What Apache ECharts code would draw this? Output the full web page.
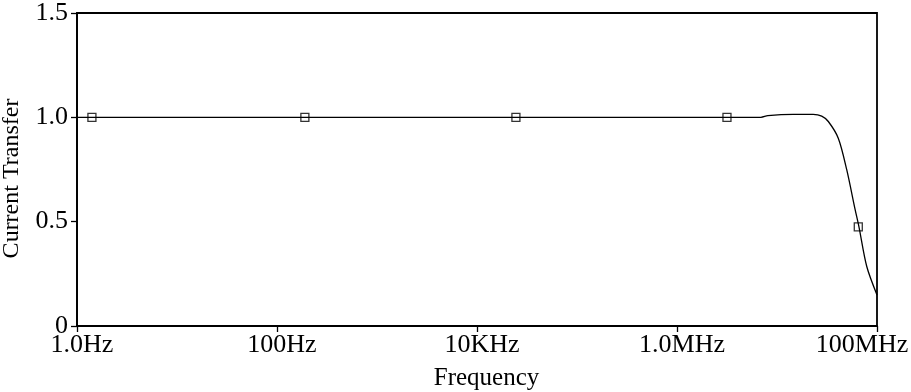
<!DOCTYPE html>
<html>
<head>
<meta charset="utf-8">
<script src="https://cdn.jsdelivr.net/npm/echarts@6/dist/echarts.min.js"></script>
<style>html,body{margin:0;padding:0;background:#fff}#c{width:911px;height:392px}</style>
</head>
<body>
<div id="c"></div>
<script>
// Frequency (Hz) and current transfer values of the curve
const curveFreq = [1, 1e6, 6.9e6, 8.1e6, 1.45e7, 2.3e7, 2.8e7, 3.26e7, 4.1e7, 4.98e7, 6.03e7, 6.6e7, 7.9e7, 1e8];
const curveVal  = [1.0, 1.0, 1.0, 1.008, 1.014, 1.014, 1.006, 0.98, 0.90, 0.749, 0.56, 0.475, 0.285, 0.149];
// Marker positions
const markFreq = [1.41, 190, 24500, 3.16e6, 6.5e7];
const markVal  = [1.0, 1.0, 1.0, 1.0, 0.475];
// Tick labels
const xTickLabels = {1: '1.0Hz', 100: '100Hz', 10000: '10KHz', 1000000: '1.0MHz', 100000000: '100MHz'};
const yTicks = [0, 0.5, 1.0, 1.5];

const font = 'Liberation Serif';
const fs = 26;
const chart = echarts.init(document.getElementById('c'));
chart.setOption({
  animation: false,
  backgroundColor: '#fff',
  grid: {left: 77, top: 13, right: 34, bottom: 66, containLabel: false, outerBoundsMode: 'none',
         show: true, borderColor: '#000', borderWidth: 1.8},
  xAxis: {
    type: 'log', logBase: 10, min: 1, max: 1e8, interval: 2,
    name: 'Frequency', nameLocation: 'middle', nameGap: 40,
    nameTextStyle: {fontFamily: font, fontSize: 25, color: '#000', padding: [0, 0, 0, 19]},
    axisLine: {lineStyle: {color: '#000', width: 1.8}},
    axisTick: {show: true, inside: false, length: 6, lineStyle: {color: '#000', width: 1.3}},
    minorTick: {show: false},
    splitLine: {show: false},
    axisLabel: {
      fontFamily: font, fontSize: fs, color: '#000', margin: 6,
      formatter: function (v) {
        const k = Math.round(v);
        if (xTickLabels[k] === undefined) return '';
        return k === 100000000 ? '{last|' + xTickLabels[k] + '}' : '{n|' + xTickLabels[k] + '}';
      },
      rich: {
        n: {fontFamily: font, fontSize: fs, color: '#000', padding: [0, 0, 0, 10]},
        last: {fontFamily: font, fontSize: fs, color: '#000', padding: [0, 30, 0, 0]}
      }
    }
  },
  yAxis: {
    type: 'value', min: 0, max: 1.5, interval: 0.5,
    name: 'Current Transfer', nameLocation: 'middle', nameGap: 53,
    nameTextStyle: {fontFamily: font, fontSize: 24, color: '#000', padding: [0, 18, 0, 0]},
    axisLine: {show: true, lineStyle: {color: '#000', width: 1.8}},
    axisTick: {show: true, inside: false, length: 6, lineStyle: {color: '#000', width: 1.3}},
    splitLine: {show: false},
    axisLabel: {
      fontFamily: font, fontSize: fs, color: '#000', margin: 9,
      formatter: function (v) { return v === 0 ? '0' : v.toFixed(1); }
    }
  },
  series: [
    {
      type: 'line', smooth: 0.3, showSymbol: false, symbol: 'none',
      data: curveFreq.map((f, i) => [f, curveVal[i]]),
      lineStyle: {color: '#000', width: 1.3}
    },
    {
      type: 'scatter', symbol: 'rect', symbolSize: [8, 8],
      data: markFreq.map((f, i) => [f, markVal[i]]),
      itemStyle: {color: '#fff', borderColor: '#000', borderWidth: 1.3}
    }
  ]
});
</script>
</body>
</html>
